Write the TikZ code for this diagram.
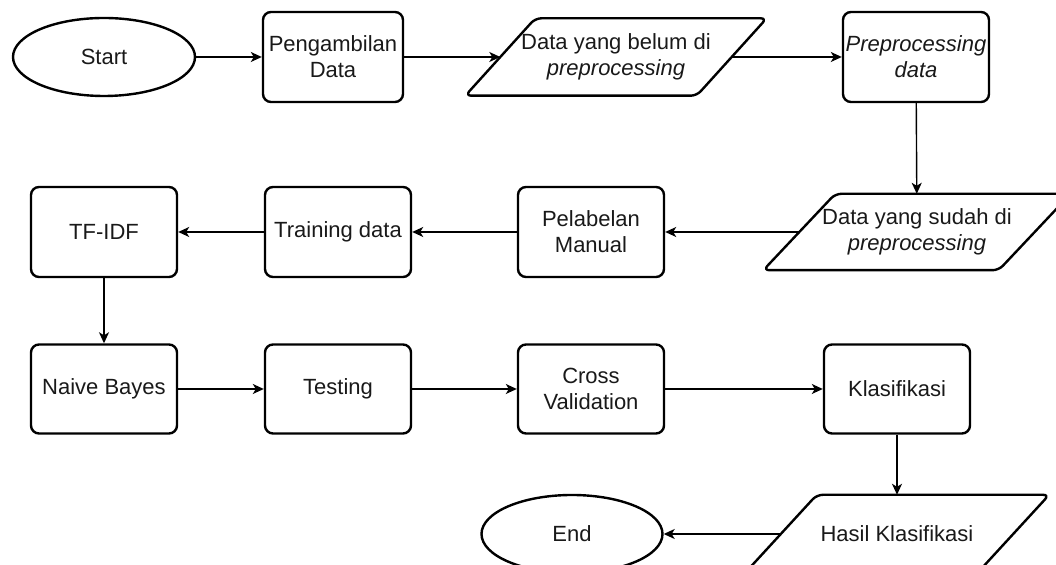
\documentclass[tikz,border=0pt]{standalone}
\usepackage{fontspec}
\setmainfont{Liberation Sans}
\usetikzlibrary{shapes.geometric}
\usetikzlibrary{arrows.meta}
\tikzset{proc/.style={draw, rounded corners=4pt, line width=1.2pt, minimum width=73pt, minimum height=45pt, align=center, inner sep=1pt},
	io/.style={rectangle, line width=1.2pt, minimum width=115pt, minimum height=37.5pt, align=center, inner sep=0pt},
	ioline/.style={draw, line width=1.2pt, rounded corners=3pt},
	term/.style={draw, ellipse, line width=1.2pt, minimum width=91pt, minimum height=39pt},
	flow/.style={draw=black, line width=0.7pt}}

\begin{document}
\begin{tikzpicture}[x=0.5pt, y=-0.5pt, font=\fontsize{11}{13}\selectfont]
		\useasboundingbox (0,0) rectangle (1056,565);
		\begin{scope}[every node/.style={text=black!90}]
			\node[term](start) at (104,57) {Start};
			\node[proc, minimum width=70pt](ambil) at (333,57) {Pengambilan\\Data};
			\node[io, minimum width=114.5pt](belum) at (616,57) {Data yang belum di\\\textit{preprocessing}};
			\node[proc](prepro) at (916,57) {\textit{Preprocessing}\\\textit{data}};
			\node[io, minimum width=116.5pt, minimum height=37pt](sudah) at (917,232) {Data yang sudah di\\\textit{preprocessing}};
			\node[proc](label) at (591,232) {Pelabelan\\Manual};
			\node[proc](train) at (338,232) {Training data};
			\node[proc](tfidf) at (104,232) {TF-IDF};
			\node[proc, minimum height=44.5pt](nb) at (104,389) {Naive Bayes};
			\node[proc, minimum height=44.5pt](test) at (338,389) {Testing};
			\node[proc, minimum height=44.5pt](cv) at (591,389) {Cross\\Validation};
			\node[proc, minimum height=44.5pt](klas) at (897,389) {Klasifikasi};
			\node[io, minimum height=38pt](hasil) at (897,534) {Hasil Klasifikasi};
			\node[term, minimum width=90.5pt](stop) at (572,534) {End};
		\end{scope}
		% slanted outlines of the data nodes
		\draw[ioline] ([xshift=17.5pt]belum.north west) -- ([xshift=17.5pt]belum.north east) -- ([xshift=-17.5pt]belum.south east) -- ([xshift=-17.5pt]belum.south west) -- cycle;
		\draw[ioline] ([xshift=18pt]sudah.north west) -- ([xshift=18pt]sudah.north east) -- ([xshift=-18pt]sudah.south east) -- ([xshift=-18pt]sudah.south west) -- cycle;
		\draw[ioline] ([xshift=18pt]hasil.north west) -- ([xshift=18pt]hasil.north east) -- ([xshift=-18pt]hasil.south east) -- ([xshift=-18pt]hasil.south west) -- cycle;
		\begin{scope}[>={Stealth[length=5.5pt, width=5pt, inset=1.5pt]}, every edge/.style={flow}]
			\path [->] (start) edge (ambil);
			\path [->] (ambil) edge (belum);
			\path [->] (belum) edge (prepro);
			\path [->] (prepro) edge (sudah);
			\path [->] (sudah) edge (label);
			\path [->] (label) edge (train);
			\path [->] (train) edge (tfidf);
			\path [->] (tfidf) edge (nb);
			\path [->] (nb) edge (test);
			\path [->] (test) edge (cv);
			\path [->] (cv) edge (klas);
			\path [->] (klas) edge (hasil);
			\path [->] (hasil) edge (stop);
		\end{scope}
	\end{tikzpicture}
\end{document}
